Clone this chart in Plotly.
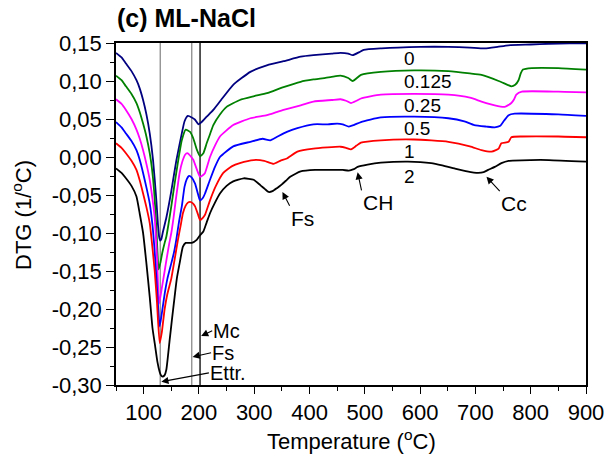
import plotly.graph_objects as go

# ---------------- data ----------------
temp_0 = [50, 60, 68, 78, 87, 93, 99, 105, 111, 117, 123, 126, 128, 130, 132, 135, 141, 150, 159, 169, 174, 180,
          187, 193, 199, 205, 214, 226, 240, 262, 293, 324, 353, 384, 407, 440, 456, 470, 478, 490, 498, 530,
          560, 600, 651, 690, 717, 740, 760, 800, 833, 870, 900]
dtg_0 = [0.137, 0.131, 0.123, 0.113, 0.101, 0.090, 0.075, 0.056, 0.031, -0.004, -0.057, -0.090, -0.105, -0.110,
         -0.108, -0.098, -0.080, -0.045, -0.005, 0.031, 0.047, 0.054, 0.052, 0.049, 0.043, 0.046, 0.053, 0.062,
         0.075, 0.095, 0.112, 0.121, 0.126, 0.132, 0.134, 0.136, 0.137, 0.136, 0.134, 0.138, 0.141, 0.143,
         0.144, 0.145, 0.145, 0.144, 0.143, 0.145, 0.147, 0.148, 0.149, 0.1495, 0.1496]

temp_1 = [50, 60, 68, 78, 87, 93, 99, 105, 111, 115, 119, 122, 125, 127, 130, 134, 138, 141, 145, 150, 155, 159,
          164, 169, 176, 184, 190, 196, 202, 208, 214, 220, 226, 238, 250, 274, 300, 323, 353, 384, 407, 438,
          456, 470, 478, 493, 529, 589, 651, 690, 711, 742, 758, 765, 772, 778, 782, 786, 802, 850, 900]
dtg_1 = [0.107, 0.101, 0.093, 0.083, 0.071, 0.059, 0.044, 0.027, 0.005, -0.015, -0.045, -0.080, -0.125, -0.148,
         -0.140, -0.125, -0.113, -0.105, -0.088, -0.065, -0.040, -0.021, 0.002, 0.022, 0.036, 0.033, 0.024,
         0.010, 0.001, 0.005, 0.018, 0.030, 0.042, 0.056, 0.066, 0.075, 0.080, 0.084, 0.092, 0.099, 0.102,
         0.105, 0.107, 0.104, 0.100, 0.108, 0.112, 0.114, 0.113, 0.110, 0.108, 0.100, 0.095, 0.093, 0.095,
         0.101, 0.110, 0.115, 0.117, 0.117, 0.115]

temp_2 = [50, 60, 68, 78, 87, 93, 99, 105, 111, 116, 120, 124, 128, 133, 138, 142, 146, 150, 154, 158, 162, 165,
          170, 175, 179, 185, 190, 196, 202, 207, 211, 220, 229, 238, 262, 293, 323, 340, 353, 384, 407, 440,
          456, 466, 475, 485, 493, 529, 589, 651, 690, 711, 735, 753, 765, 770, 774, 784, 850, 900]
dtg_2 = [0.076, 0.070, 0.062, 0.050, 0.036, 0.024, 0.009, -0.009, -0.030, -0.055, -0.080, -0.130, -0.193,
         -0.172, -0.150, -0.132, -0.115, -0.100, -0.080, -0.057, -0.036, -0.021, -0.006, 0.003, 0.005, 0.001,
         -0.004, -0.016, -0.026, -0.024, -0.021, 0.000, 0.015, 0.027, 0.042, 0.051, 0.055, 0.059, 0.062, 0.068,
         0.073, 0.075, 0.076, 0.074, 0.071, 0.074, 0.077, 0.082, 0.083, 0.082, 0.078, 0.073, 0.068, 0.066,
         0.071, 0.076, 0.082, 0.086, 0.086, 0.085]

temp_3 = [50, 60, 68, 78, 87, 93, 99, 105, 111, 116, 120, 124, 129, 133, 138, 143, 150, 155, 159, 164, 169, 174,
          178, 182, 187, 193, 198, 202, 207, 211, 220, 229, 238, 262, 293, 315, 329, 340, 359, 378, 407, 433,
          450, 460, 471, 480, 493, 529, 589, 651, 680, 698, 720, 735, 745, 752, 760, 771, 850, 900]
dtg_3 = [0.046, 0.039, 0.031, 0.021, 0.009, -0.004, -0.021, -0.040, -0.061, -0.090, -0.125, -0.170, -0.223,
         -0.205, -0.180, -0.160, -0.140, -0.125, -0.109, -0.085, -0.065, -0.039, -0.029, -0.025, -0.027,
         -0.035, -0.048, -0.057, -0.054, -0.048, -0.030, -0.013, 0.000, 0.014, 0.020, 0.024, 0.022, 0.026,
         0.033, 0.038, 0.043, 0.043, 0.044, 0.043, 0.040, 0.042, 0.046, 0.052, 0.053, 0.051, 0.047, 0.042,
         0.040, 0.039, 0.041, 0.048, 0.055, 0.057, 0.056, 0.054]

temp_4 = [50, 60, 68, 78, 87, 93, 99, 105, 111, 116, 120, 124, 129, 133, 138, 143, 150, 156, 162, 167, 171, 176,
          180, 184, 189, 193, 198, 202, 207, 211, 220, 230, 244, 260, 274, 299, 318, 335, 347, 359, 378, 407,
          456, 466, 475, 485, 493, 529, 589, 651, 690, 711, 729, 737, 742, 747, 760, 765, 784, 850, 900]
dtg_4 = [0.018, 0.012, 0.005, -0.005, -0.017, -0.031, -0.048, -0.066, -0.087, -0.120, -0.150, -0.190, -0.245,
         -0.230, -0.200, -0.180, -0.160, -0.135, -0.109, -0.090, -0.074, -0.064, -0.060, -0.059, -0.061,
         -0.065, -0.075, -0.083, -0.080, -0.076, -0.057, -0.039, -0.021, -0.012, -0.008, -0.004, -0.005,
         -0.009, -0.005, -0.002, 0.007, 0.011, 0.0135, 0.012, 0.010, 0.015, 0.019, 0.022, 0.023, 0.020, 0.014,
         0.009, 0.007, 0.009, 0.011, 0.018, 0.020, 0.026, 0.027, 0.027, 0.026]

temp_5 = [50, 60, 68, 78, 87, 93, 99, 105, 111, 116, 120, 125, 129, 131, 134, 138, 141, 147, 151, 156, 160, 165,
          171, 176, 187, 196, 202, 208, 214, 220, 229, 238, 250, 262, 281, 299, 311, 319, 326, 333, 341, 350,
          359, 365, 384, 410, 438, 460, 471, 480, 487, 505, 529, 578, 620, 640, 662, 685, 705, 715, 723, 735,
          747, 760, 800, 833, 900]
dtg_5 = [-0.015, -0.021, -0.028, -0.038, -0.052, -0.075, -0.100, -0.140, -0.184, -0.225, -0.245, -0.270,
         -0.283, -0.287, -0.289, -0.287, -0.280, -0.241, -0.215, -0.184, -0.160, -0.140, -0.118, -0.113,
         -0.113, -0.109, -0.103, -0.098, -0.086, -0.074, -0.060, -0.048, -0.038, -0.032, -0.028, -0.030,
         -0.037, -0.042, -0.046, -0.045, -0.041, -0.036, -0.030, -0.026, -0.019, -0.017, -0.017, -0.017,
         -0.018, -0.016, -0.013, -0.010, -0.0075, -0.006, -0.008, -0.011, -0.015, -0.019, -0.021, -0.020,
         -0.017, -0.013, -0.008, -0.005, -0.004, -0.004, -0.006]

series_names = ["0", "0.125", "0.25", "0.5", "1", "2"]
series_temps = [temp_0, temp_1, temp_2, temp_3, temp_4, temp_5]
series_dtg = [dtg_0, dtg_1, dtg_2, dtg_3, dtg_4, dtg_5]
series_colors = ["#000080", "#008000", "#ff00ff", "#0000ff", "#ff0000", "#000000"]

# curve labels (x, y)
label_x = [568, 568, 568, 568, 568, 568]
label_y = [0.130, 0.099, 0.068, 0.038, 0.007, -0.025]

# vertical reference lines
vline_x = [130, 187, 202]
vline_colors = ["#8a8a8a", "#8a8a8a", "#000000"]

# arrow annotations: text, tail x/y (text corner), tip x/y, text anchors, font size
arrow_text = ["Fs", "CH", "Cc", "Mc", "Fs", "Ettr."]
arrow_tail_x = [364, 494, 744, 224, 222, 218]
arrow_tail_y = [-0.064, -0.044, -0.045, -0.2286, -0.2575, -0.284]
arrow_tip_x = [351, 487, 720, 204, 188.5, 132]
arrow_tip_y = [-0.046, -0.020, -0.026, -0.2355, -0.263, -0.2957]
arrow_xanchor = ["left", "left", "left", "left", "left", "left"]
arrow_yanchor = ["top", "top", "top", "middle", "middle", "middle"]
arrow_size = [21, 21, 21, 20, 20, 20]

x_tickvals = [100, 200, 300, 400, 500, 600, 700, 800, 900]
y_tickvals = [0.15, 0.10, 0.05, 0.00, -0.05, -0.10, -0.15, -0.20, -0.25, -0.30]
y_ticktext = ["0,15", "0,10", "0,05", "0,00", "-0,05", "-0,10", "-0,15", "-0,20", "-0,25", "-0,30"]

FONT = "Liberation Sans, Arial, sans-serif"

fig = go.Figure()

for x0, c in zip(vline_x, vline_colors):
    fig.add_shape(type="line", x0=x0, x1=x0, y0=0, y1=1, xref="x", yref="paper",
                  line=dict(color=c, width=1.3), layer="below")

for name, t, d, c in zip(series_names, series_temps, series_dtg, series_colors):
    fig.add_trace(go.Scatter(x=t, y=d, mode="lines", name=name,
                             line=dict(color=c, width=1.8, shape="spline", smoothing=0.5),
                             showlegend=False))

for name, lx, ly in zip(series_names, label_x, label_y):
    fig.add_annotation(x=lx, y=ly, text=name, showarrow=False, xanchor="left", yanchor="middle",
                       font=dict(family=FONT, size=19, color="black"))

for txt, ax, ay, px, py, xa, ya, fs in zip(arrow_text, arrow_tail_x, arrow_tail_y, arrow_tip_x, arrow_tip_y,
                                           arrow_xanchor, arrow_yanchor, arrow_size):
    fig.add_annotation(x=px, y=py, ax=ax, ay=ay, axref="x", ayref="y", text=txt, showarrow=True,
                       xanchor=xa, yanchor=ya, borderpad=0,
                       arrowhead=2, arrowsize=1.3, arrowwidth=1.1, arrowcolor="black",
                       font=dict(family=FONT, size=fs, color="black"))

# axis titles placed as text
fig.add_annotation(x=(351 - 116) / 470, y=(385 - 440) / 342, xref="paper", yref="paper",
                   text="Temperature (<sup>o</sup>C)", showarrow=False, xanchor="center", yanchor="middle",
                   font=dict(family=FONT, size=22, color="black"))
fig.add_annotation(x=(22 - 116) / 470, y=(385 - 215) / 342, xref="paper", yref="paper",
                   text="DTG (1/<sup>o</sup>C)", showarrow=False, textangle=-90, xanchor="center",
                   yanchor="middle", font=dict(family=FONT, size=22, color="black"))

fig.update_layout(
    width=606, height=459,
    margin=dict(l=116, r=20, t=43, b=74),
    paper_bgcolor="white", plot_bgcolor="white",
    font=dict(family=FONT, size=21, color="black"),
    title=dict(text="<b>(c) ML-NaCl</b>", x=117 / 606, xanchor="left", y=1 - 18 / 459, yanchor="middle",
               font=dict(family=FONT, size=25, color="black")),
)
fig.update_xaxes(range=[50, 900], tickvals=x_tickvals, ticks="outside", ticklen=7, tickwidth=1.3,
                 tickcolor="black", showline=True, linecolor="black", linewidth=1.5, mirror=True,
                 showgrid=False, zeroline=False, automargin=False, tickfont=dict(family=FONT, size=22),
                 minor=dict(dtick=50, tick0=50, ticks="outside", ticklen=4, tickcolor="black"))
fig.update_yaxes(range=[-0.30, 0.15], tickvals=y_tickvals, ticktext=y_ticktext, ticks="outside", ticklen=8,
                 tickwidth=1.3, tickcolor="black", showline=True, linecolor="black", linewidth=1.5, mirror=True,
                 showgrid=False, zeroline=False, automargin=False, tickfont=dict(family=FONT, size=22),
                 minor=dict(dtick=0.025, tick0=0, ticks="outside", ticklen=4, tickcolor="black"))

fig.write_html("out.html", config={"displayModeBar": False},
               post_script="document.body.style.margin='0px';document.body.style.overflow='hidden';")
